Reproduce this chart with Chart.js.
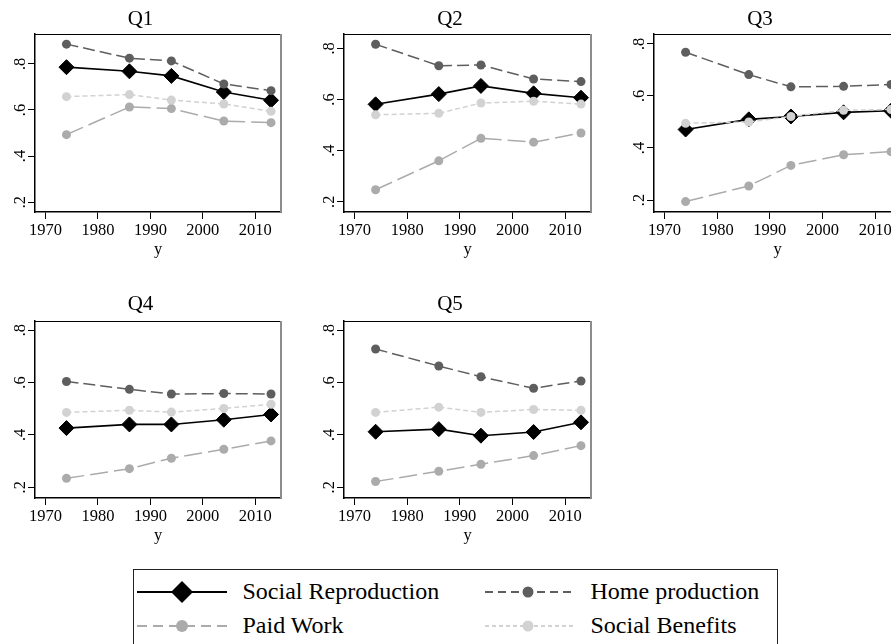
<!DOCTYPE html>
<html>
<head>
<meta charset="utf-8">
<script src="https://cdn.jsdelivr.net/npm/chart.js@4.4.1/dist/chart.umd.min.js"></script>
<style>
  html, body { margin: 0; padding: 0; background: #fff; width: 891px; height: 644px; overflow: hidden; }
  body { position: relative; font-family: "Liberation Serif", "DejaVu Serif", serif; }
  canvas { position: absolute; }
  #legend { position: absolute; left: 133px; top: 569px; width: 645px; height: 100px; border: 1.5px solid #222; box-sizing: border-box; }
  .item { position: absolute; display: flex; align-items: center; height: 30px; font-size: 24px; color: #000; white-space: nowrap; }
  .item svg { margin-right: 16px; }
</style>
</head>
<body>
<canvas id="q1"></canvas>
<canvas id="q2"></canvas>
<canvas id="q3"></canvas>
<canvas id="q4"></canvas>
<canvas id="q5"></canvas>

<div id="legend">
  <div class="item" style="left:2.5px;top:6.5px">
    <svg width="90" height="30"><line x1="0" y1="15" x2="90" y2="15" stroke="#000" stroke-width="2"/><polygon points="45,4 56,15 45,26 34,15" fill="#000"/></svg>Social Reproduction
  </div>
  <div class="item" style="left:350.5px;top:6.5px">
    <svg width="90" height="30"><line x1="0" y1="15" x2="90" y2="15" stroke="#5e5e5e" stroke-width="2" stroke-dasharray="8 5"/><circle cx="43" cy="15" r="5.5" fill="#5e5e5e"/></svg>Home production
  </div>
  <div class="item" style="left:2.5px;top:40.5px">
    <svg width="90" height="30"><line x1="0" y1="15" x2="90" y2="15" stroke="#ababab" stroke-width="2" stroke-dasharray="10 6"/><circle cx="45" cy="15" r="6" fill="#ababab"/></svg>Paid Work
  </div>
  <div class="item" style="left:350.5px;top:40.5px">
    <svg width="90" height="30"><line x1="0" y1="15" x2="90" y2="15" stroke="#d2d2d2" stroke-width="2" stroke-dasharray="4 3"/><circle cx="43" cy="15" r="5.5" fill="#d2d2d2"/></svg>Social Benefits
  </div>
</div>

<script>
// data
const years = [1974, 1986, 1994, 2004, 2013];
const panels = ['Q1', 'Q2', 'Q3', 'Q4', 'Q5'];

const socialReproduction = [
  [0.786, 0.768, 0.748, 0.678, 0.642],
  [0.581, 0.621, 0.653, 0.624, 0.607],
  [0.471, 0.510, 0.521, 0.537, 0.543],
  [0.426, 0.440, 0.440, 0.458, 0.478],
  [0.412, 0.422, 0.397, 0.411, 0.448]
];
const homeProduction = [
  [0.886, 0.825, 0.813, 0.713, 0.684],
  [0.816, 0.732, 0.735, 0.680, 0.670],
  [0.768, 0.682, 0.635, 0.637, 0.644],
  [0.604, 0.574, 0.556, 0.558, 0.556],
  [0.728, 0.663, 0.622, 0.578, 0.606]
];
const paidWork = [
  [0.493, 0.613, 0.606, 0.552, 0.545],
  [0.247, 0.360, 0.448, 0.433, 0.469],
  [0.194, 0.254, 0.333, 0.374, 0.386],
  [0.234, 0.271, 0.311, 0.345, 0.377],
  [0.222, 0.261, 0.288, 0.321, 0.359]
];
const socialBenefits = [
  [0.658, 0.667, 0.643, 0.626, 0.594],
  [0.540, 0.546, 0.586, 0.593, 0.582],
  [0.495, 0.500, 0.521, 0.545, 0.548],
  [0.486, 0.494, 0.487, 0.501, 0.517],
  [0.486, 0.506, 0.486, 0.497, 0.494]
];

const xTicks = [1970, 1980, 1990, 2000, 2010];
const yTicks = [0.2, 0.4, 0.6, 0.8];
const yMin = [0.157, 0.160, 0.154, 0.159, 0.159];
const yMax = [0.930, 0.856, 0.838, 0.835, 0.835];

// plot area of each panel: left, top, width, height
const boxes = [
  [35, 34, 246, 178],
  [344, 34, 247, 178],
  [654, 34, 247, 178],
  [35, 321, 246, 177],
  [344, 321, 247, 177]
];

const AXW = 35;   // y axis width
const AXH = 46;   // x axis height
const TOPH = 34;  // title height

Chart.defaults.font.family = '"Liberation Serif", "DejaVu Serif", serif';
Chart.defaults.color = '#000';

// top + right border of the plot region
const framePlugin = {
  id: 'frame',
  afterDraw(chart) {
    const { ctx, chartArea: a } = chart;
    ctx.save();
    ctx.strokeStyle = '#000';
    ctx.lineWidth = 1;
    ctx.beginPath();
    ctx.moveTo(a.left, a.top + 0.5);
    ctx.lineTo(a.right, a.top + 0.5);
    ctx.stroke();
    ctx.strokeStyle = '#8c8c8c';
    ctx.lineWidth = 2;
    ctx.beginPath();
    ctx.moveTo(a.right, a.top);
    ctx.lineTo(a.right, a.bottom);
    ctx.stroke();
    ctx.restore();
  }
};

function pts(arr) {
  return years.map((yr, j) => ({ x: yr, y: arr[j] }));
}

panels.forEach((name, i) => {
  const [l, t, w, h] = boxes[i];
  const cv = document.getElementById('q' + (i + 1));
  cv.width = w + 2 * AXW;
  cv.height = h + TOPH + AXH;
  cv.style.left = (l - AXW) + 'px';
  cv.style.top = (t - TOPH) + 'px';

  new Chart(cv, {
    type: 'line',
    data: {
      datasets: [
        {
          label: 'Social Reproduction',
          data: pts(socialReproduction[i]),
          borderColor: '#000',
          backgroundColor: '#000',
          borderWidth: 1.6,
          pointStyle: 'rectRot',
          pointRadius: 7.5,
          pointBorderWidth: 1,
          order: 4
        },
        {
          label: 'Home production',
          data: pts(homeProduction[i]),
          borderColor: '#5e5e5e',
          backgroundColor: '#5e5e5e',
          borderWidth: 1.5,
          borderDash: [12, 5],
          pointRadius: 4.5,
          pointBorderWidth: 0,
          order: 3
        },
        {
          label: 'Paid Work',
          data: pts(paidWork[i]),
          borderColor: '#ababab',
          backgroundColor: '#ababab',
          borderWidth: 1.5,
          borderDash: [18, 6],
          pointRadius: 4.5,
          pointBorderWidth: 0,
          order: 2
        },
        {
          label: 'Social Benefits',
          data: pts(socialBenefits[i]),
          borderColor: '#d2d2d2',
          backgroundColor: '#d2d2d2',
          borderWidth: 1.5,
          borderDash: [5, 3],
          pointRadius: 4.5,
          pointBorderWidth: 0,
          order: 1
        }
      ]
    },
    options: {
      responsive: false,
      animation: false,
      events: [],
      layout: { padding: { left: 0, right: AXW, top: 0, bottom: 0 } },
      plugins: {
        legend: { display: false },
        tooltip: { enabled: false },
        title: {
          display: true,
          text: name,
          font: { size: 21, weight: 'normal', lineHeight: 1.2 },
          color: '#000',
          padding: i < 3 ? { top: 7, bottom: 1.8 } : { top: 5, bottom: 3.8 }
        }
      },
      scales: {
        x: {
          type: 'linear',
          min: 1968,
          max: 2014.9,
          afterBuildTicks: ax => { ax.ticks = xTicks.map(v => ({ value: v })); },
          afterFit: ax => { ax.height = AXH; },
          border: { display: true, color: '#000', width: 1.5 },
          grid: { display: true, drawOnChartArea: false, drawTicks: true, tickLength: 7, color: '#000', lineWidth: 1 },
          ticks: {
            autoSkip: false,
            maxRotation: 0,
            padding: 3,
            font: { size: 16.5, lineHeight: 1 },
            color: '#000',
            callback: v => String(v)
          },
          title: {
            display: true,
            text: 'y',
            font: { size: 16.5, lineHeight: 1 },
            color: '#000',
            padding: { top: 2, bottom: 0 }
          }
        },
        y: {
          type: 'linear',
          min: yMin[i],
          max: yMax[i],
          afterBuildTicks: ax => { ax.ticks = yTicks.map(v => ({ value: v })); },
          afterFit: ax => { ax.width = AXW; },
          border: { display: true, color: '#000', width: 1.5 },
          grid: { display: true, drawOnChartArea: false, drawTicks: true, tickLength: 7, color: '#000', lineWidth: 1 },
          ticks: {
            autoSkip: false,
            minRotation: 90,
            maxRotation: 90,
            crossAlign: 'center',
            padding: 1,
            font: { size: 16.5, lineHeight: 1 },
            color: '#000',
            callback: v => String(v).replace(/^0\./, '.')
          }
        }
      }
    },
    plugins: [framePlugin]
  });
});
</script>
</body>
</html>
